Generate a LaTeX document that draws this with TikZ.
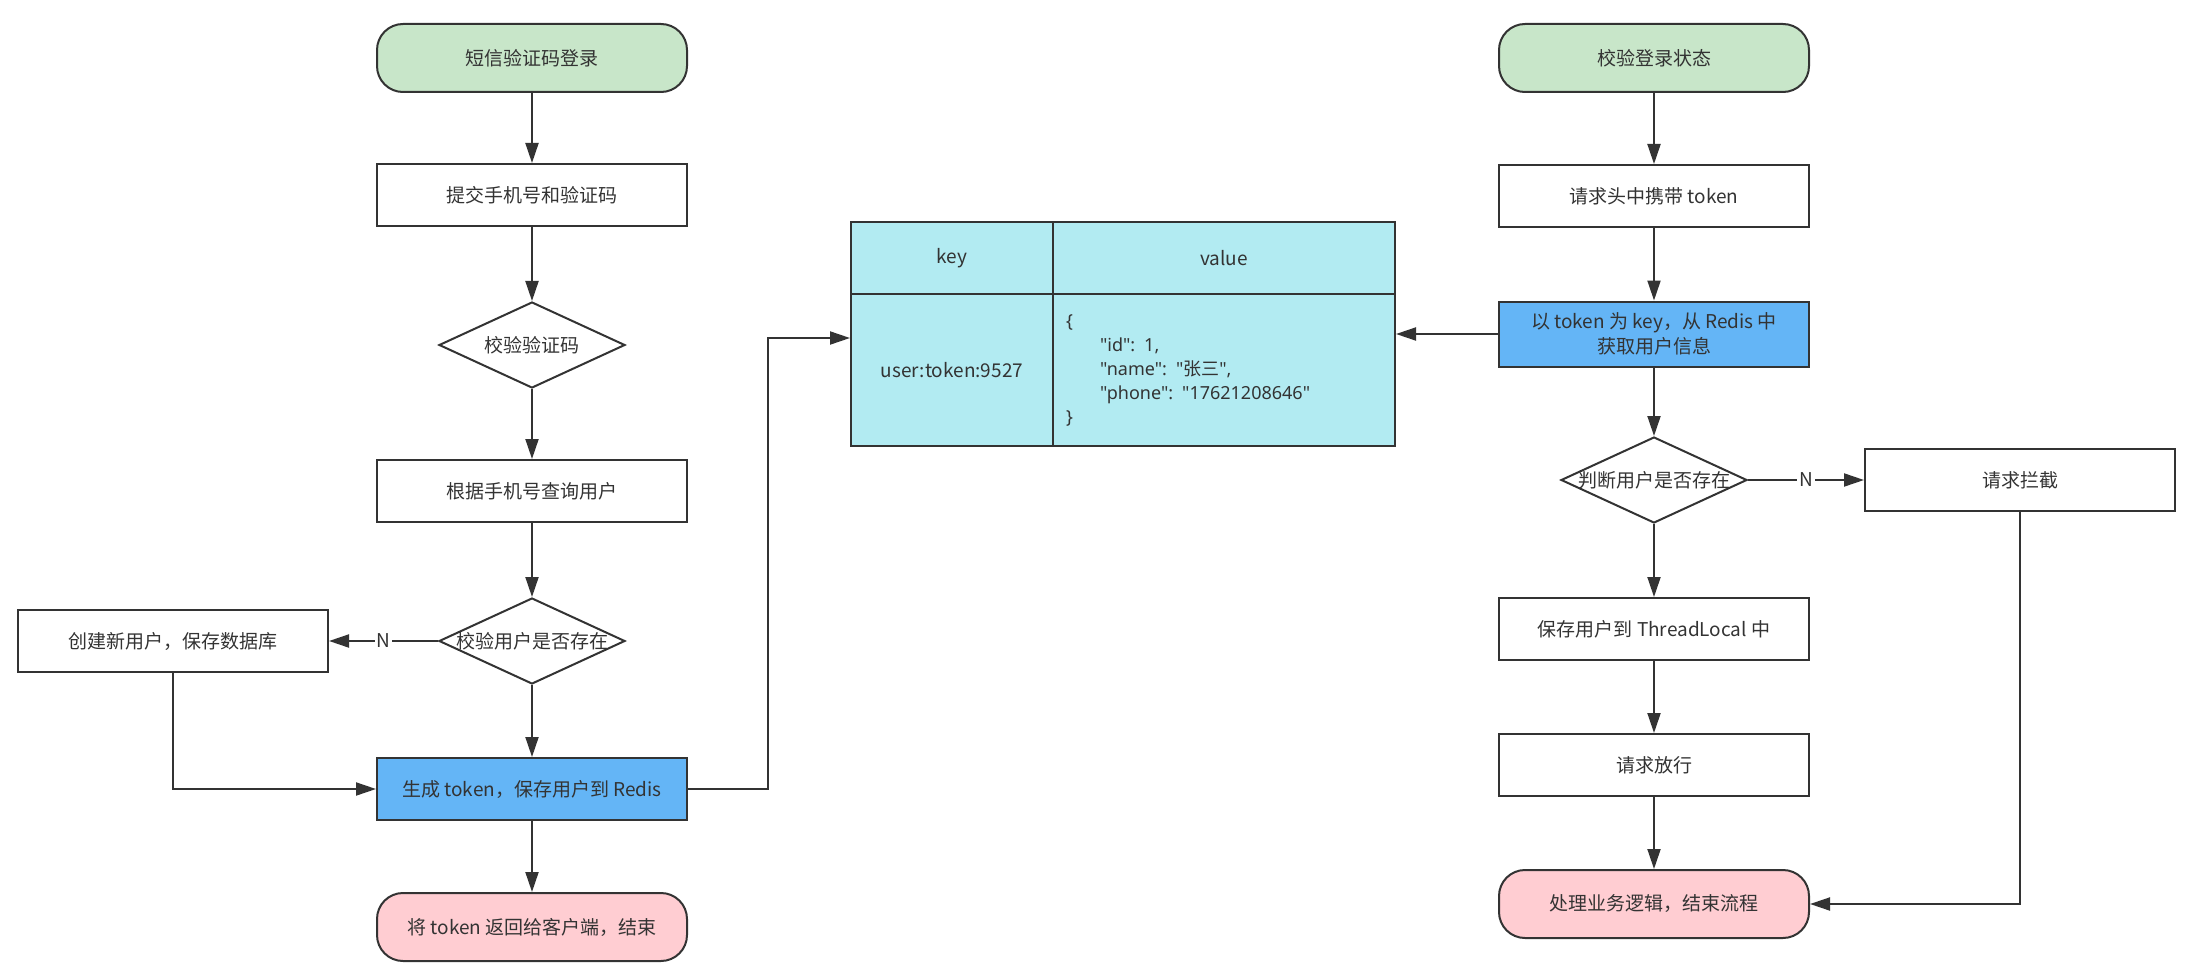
\documentclass[tikz,border=0pt]{standalone}
\usepackage{fontspec}
\setmainfont{Noto Sans CJK SC}
\newfontfamily\plainfont{Noto Sans CJK SC}
\newfontfamily\jsonfont{Noto Sans}
\usetikzlibrary{shapes.geometric, arrows.meta}
\definecolor{lineGray}{HTML}{333333}
\definecolor{startGreen}{HTML}{C8E6C9}
\definecolor{tokenBlue}{HTML}{64B5F6}
\definecolor{endPink}{HTML}{FFCDD2}
\definecolor{redisCyan}{HTML}{B2EBF2}

\begin{document}
\begin{tikzpicture}[x=0.5pt,y=-0.5pt,
    font=\fontsize{9.5}{12.5}\selectfont,
    base/.style={draw=lineGray, line width=1pt, text=lineGray, align=center,
        minimum width=155pt, inner sep=2pt},
    terminal/.style={base, rectangle, rounded corners=13pt, minimum height=34pt},
    process/.style={base, rectangle, minimum height=31pt},
    decision/.style={draw=lineGray, line width=1pt, diamond, inner sep=0pt,
        minimum width=93pt, minimum height=43pt, label={[text=lineGray]center:#1}},
    cell/.style={draw=lineGray, line width=1pt, fill=redisCyan, text=lineGray,
        rectangle, inner sep=0pt},
    flow/.style={draw=lineGray, line width=1pt, -{Triangle[length=10pt,width=6.5pt]}},
    nlabel/.style={fill=white, inner sep=1pt, text=lineGray}]
\def\colL{532}
\def\colR{1654}

\useasboundingbox (0,0) rectangle (2190,974);

% Left column: SMS login
\node[terminal, fill=startGreen] (startL) at (\colL,58) {短信验证码登录};
\node[process] (submit) at (\colL,195) {提交手机号和验证码};
\node[decision=校验验证码] (checkCode) at (\colL,345) {};
\node[process] (query) at (\colL,491) {根据手机号查询用户};
\node[decision=校验用户是否存在] (checkUser) at (\colL,641) {};
\node[process] (create) at (173,641) {创建新用户，保存数据库};
\node[process, fill=tokenBlue] (genToken) at (\colL,789) {生成 token，保存用户到 Redis};
\node[terminal, fill=endPink] (endL) at (\colL,927) {将 token 返回给客户端，结束};

% Redis table
\node[cell, minimum width=101pt, minimum height=36pt] (keyHead) at (952,258) {key};
\node[cell, minimum width=171pt, minimum height=36pt] (valueHead) at (1224,258) {value};
\node[cell, minimum width=101pt, minimum height=76pt] (keyCell) at (952,370) {user:token:9527};
\node[cell, minimum width=171pt, minimum height=76pt, align=left,
    text width=158pt, inner xsep=6.5pt, font=\jsonfont\fontsize{9}{12}\selectfont]
    (valueCell) at (1224,370)
    {\{\\\hspace*{17pt}"id": 1,\\\hspace*{17pt}"name": "{\plainfont 张三}",\\\hspace*{17pt}"phone": "17621208646"\\\}};

% Right column: login check
\node[terminal, fill=startGreen] (startR) at (\colR,58) {校验登录状态};
\node[process] (header) at (\colR,196) {请求头中携带 token};
\node[process, fill=tokenBlue, minimum height=32.5pt] (fetch) at (\colR,334)
    {以 token 为 key，从 Redis 中\\获取用户信息};
\node[decision=判断用户是否存在] (judge) at (\colR,480) {};
\node[process] (intercept) at (2020,480) {请求拦截};
\node[process] (saveTL) at (\colR,629) {保存用户到 ThreadLocal 中};
\node[process] (pass) at (\colR,765) {请求放行};
\node[terminal, fill=endPink] (endR) at (\colR,904) {处理业务逻辑，结束流程};

\coordinate (bend) at (768,338);

% Left flow
\draw[flow] (startL) -- (submit);
\draw[flow] (submit) -- (checkCode);
\draw[flow] (checkCode) -- (query);
\draw[flow] (query) -- (checkUser);
\draw[flow] (checkUser) -- node[nlabel] {N} (create);
\draw[flow] (checkUser) -- (genToken);
\draw[flow] (create.south) |- (genToken.west);
\draw[flow] (genToken) -- (endL);
\draw[flow] (genToken.east) -- (genToken.east -| bend) -- (bend) -- (bend -| keyCell.west);

% Right flow
\draw[flow] (startR) -- (header);
\draw[flow] (header) -- (fetch);
\draw[flow] (fetch.west) -- (fetch.west -| valueCell.east);
\draw[flow] (fetch) -- (judge);
\draw[flow] (judge) -- node[nlabel] {N} (intercept);
\draw[flow] (judge) -- (saveTL);
\draw[flow] (saveTL) -- (pass);
\draw[flow] (pass) -- (endR);
\draw[flow] (intercept.south) |- (endR.east);
\end{tikzpicture}
\end{document}
